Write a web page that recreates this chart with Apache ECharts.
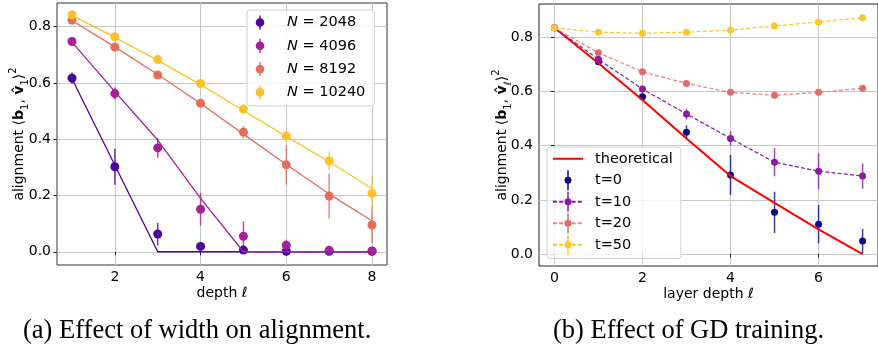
<!DOCTYPE html>
<html><head><meta charset="utf-8">
<script src="https://cdn.jsdelivr.net/npm/echarts@6/dist/echarts.min.js"></script>
<style>html,body{margin:0;padding:0;background:#fff}#c{width:878px;height:350px}</style>
</head><body><div id="c"></div>
<script>
// ---------- Panel (a): effect of width ----------
const depthA = [1, 2, 3, 4, 5, 6, 7, 8];
const widthNames = ['N = 2048', 'N = 4096', 'N = 8192', 'N = 10240'];
const n2048 = [0.617, 0.302, 0.063, 0.019, 0.006, 0.002, 0.002, 0.002];
const n2048Err = [0.02, 0.064, 0.04, 0.008, 0.005, 0.002, 0.002, 0.002];
const n2048Fit = [0.615, 0.3075, 0, 0, 0, 0, 0, 0];
const n4096 = [0.747, 0.562, 0.369, 0.151, 0.055, 0.023, 0.005, 0.003];
const n4096Err = [0.01, 0.022, 0.035, 0.058, 0.053, 0.02, 0.006, 0.004];
const n4096Fit = [0.745, 0.569, 0.397, 0.19, 0, 0, 0, 0];
const n8192 = [0.823, 0.727, 0.628, 0.528, 0.425, 0.309, 0.198, 0.095];
const n8192Err = [0.008, 0.01, 0.01, 0.012, 0.022, 0.07, 0.08, 0.065];
const n8192Fit = [0.822, 0.728, 0.63, 0.527, 0.418, 0.31, 0.205, 0.11];
const n10240 = [0.842, 0.764, 0.683, 0.598, 0.507, 0.411, 0.323, 0.207];
const n10240Err = [0.006, 0.008, 0.008, 0.01, 0.012, 0.02, 0.033, 0.065];
const n10240Fit = [0.84, 0.762, 0.68, 0.594, 0.502, 0.41, 0.32, 0.225];
const ticksXA = [2, 4, 6, 8];

// ---------- Panel (b): effect of GD training ----------
const depthB = [0, 1, 2, 3, 4, 5, 6, 7];
const theory = [0.835, 0.704, 0.569, 0.427, 0.288, 0.189, 0.091, 0.0];
const t0 = [0.835, 0.710, 0.581, 0.450, 0.292, 0.154, 0.110, 0.048];
const t0Err = [0.004, 0.01, 0.012, 0.025, 0.074, 0.076, 0.071, 0.045];
const t10 = [0.835, 0.719, 0.609, 0.517, 0.427, 0.339, 0.306, 0.288];
const t10Err = [0.004, 0.01, 0.012, 0.02, 0.026, 0.052, 0.066, 0.047];
const t20 = [0.835, 0.743, 0.673, 0.630, 0.597, 0.586, 0.597, 0.612];
const t20Err = [0.003, 0.006, 0.006, 0.006, 0.007, 0.008, 0.008, 0.008];
const t50 = [0.835, 0.819, 0.815, 0.819, 0.827, 0.842, 0.857, 0.872];
const t50Err = [0.003, 0.004, 0.004, 0.004, 0.004, 0.005, 0.005, 0.005];
const ticksXB = [0, 2, 4, 6];
const ticksY = [0, 0.2, 0.4, 0.6, 0.8];

const colorsA = ['#4c02a1', '#a62098', '#e66c5c', '#fdc229'];
const cT0 = '#0c0c8c', cT10 = '#8b19a3', cT20 = '#e56a6b', cT50 = '#fcc62c', cTh = '#ff0000';

const FONT = 'DejaVu Sans';
const NONE = 'rgba(0,0,0,0)';

// icon: circle with vertical bar in a 20x20 box
function dotBar(r, half, w) {
  const c = 10;
  return 'path://M0,0L0.001,0M20,20L19.999,20' +
    'M' + (c - w / 2) + ',' + (c - half) + 'H' + (c + w / 2) + 'V' + (c - r + 0.3) + 'H' + (c - w / 2) + 'Z' +
    'M' + (c - w / 2) + ',' + (c + r - 0.3) + 'H' + (c + w / 2) + 'V' + (c + half) + 'H' + (c - w / 2) + 'Z' +
    'M' + (c + r) + ',' + c + 'A' + r + ',' + r + ' 0 1,1 ' + (c - r) + ',' + c +
    'A' + r + ',' + r + ' 0 1,1 ' + (c + r) + ',' + c + 'Z';
}
const iconA = dotBar(6.2, 10, 2.1);
const iconLineSym = dotBar(3.5, 10, 1.5);

function errSeries(name, xs, ys, es, color, xi, lw) {
  return {
    type: 'custom', name: name, xAxisIndex: xi, yAxisIndex: xi,
    data: xs.map((x, i) => [x, ys[i], es[i]]),
    encode: { x: 0, y: 1 },
    renderItem: function (params, api) {
      const x = api.value(0), y = api.value(1), e = api.value(2);
      const p1 = api.coord([x, y - e]), p2 = api.coord([x, y + e]);
      return { type: 'line', shape: { x1: p1[0], y1: p1[1], x2: p2[0], y2: p2[1] },
        style: { stroke: color, lineWidth: lw, opacity: 0.8 } };
    },
    silent: true
  };
}

function xAxisDef(gi, min, max, ticks, nameRich) {
  return {
    type: 'value', gridIndex: gi, min: min, max: max,
    name: nameRich, nameLocation: 'middle', nameGap: 21, nameMoveOverlap: false,
    nameTextStyle: { fontFamily: FONT, fontSize: 14, color: '#000',
      rich: { n: { fontFamily: FONT, fontSize: 14, color: '#000' },
              l: { fontFamily: FONT, fontSize: 14, fontStyle: 'italic', color: '#000' } } },
    axisLine: { show: false },
    axisTick: { show: true, length: 3.5, customValues: ticks, lineStyle: { color: '#222', width: 1 } },
    axisLabel: { customValues: ticks, margin: 5, fontFamily: FONT, fontSize: 14, color: '#000',
      formatter: v => String(Math.round(v)) },
    splitLine: { show: true, lineStyle: { color: '#c8c8c8', width: 1 } }
  };
}
function yAxisDef(gi, min, max, nameRich, gap) {
  return {
    type: 'value', gridIndex: gi, min: min, max: max,
    name: nameRich, nameLocation: 'middle', nameRotate: 90, nameGap: gap, nameMoveOverlap: false,
    nameTextStyle: { fontFamily: FONT, fontSize: 14, color: '#000',
      rich: {
        n: { fontFamily: FONT, fontSize: 14, color: '#000', lineHeight: 22 },
        b: { fontFamily: FONT, fontSize: 14, fontWeight: 'bold', color: '#000', lineHeight: 22 },
        s: { fontFamily: FONT, fontSize: 10, color: '#000', verticalAlign: 'bottom', lineHeight: 12 },
        sl: { fontFamily: FONT, fontSize: 10, fontStyle: 'italic', color: '#000', verticalAlign: 'bottom', lineHeight: 12 },
        p: { fontFamily: FONT, fontSize: 10, color: '#000', verticalAlign: 'top', lineHeight: 8 }
      } },
    axisLine: { show: false },
    axisTick: { show: true, length: 3.5, customValues: ticksY, lineStyle: { color: '#222', width: 1 } },
    axisLabel: { customValues: ticksY, margin: 6, fontFamily: FONT, fontSize: 14, color: '#000',
      formatter: v => v.toFixed(1) },
    splitLine: { show: true, lineStyle: { color: '#c8c8c8', width: 1 } }
  };
}

const seriesA = [];
const fitsA = [n2048Fit, n4096Fit, n8192Fit, n10240Fit];
const valsA = [n2048, n4096, n8192, n10240];
const errsA = [n2048Err, n4096Err, n8192Err, n10240Err];
for (let k = 0; k < 4; k++) {
  seriesA.push({
    type: 'line', name: 'fit' + k, xAxisIndex: 0, yAxisIndex: 0, symbol: 'none',
    data: depthA.map((x, i) => [x, fitsA[k][i]]),
    lineStyle: { color: colorsA[k], width: 1.3 }, itemStyle: { color: colorsA[k] }, silent: true
  });
}
for (let k = 0; k < 4; k++) {
  seriesA.push(errSeries('err' + k, depthA, valsA[k], errsA[k], colorsA[k], 0, 1.5));
}
for (let k = 0; k < 4; k++) {
  seriesA.push({
    type: 'scatter', name: widthNames[k], xAxisIndex: 0, yAxisIndex: 0, symbol: 'circle', symbolSize: 9,
    data: depthA.map((x, i) => [x, valsA[k][i]]),
    itemStyle: { color: colorsA[k], opacity: 1 }
  });
}

function legendOnly(name, symbol, symColor, lineColor, lw, type, op) {
  return { type: 'line', name: name, xAxisIndex: 1, yAxisIndex: 1, data: [], symbol: symbol,
    itemStyle: { color: symColor }, lineStyle: { color: lineColor, width: lw, type: type, opacity: op } };
}

const seriesB = [
  // legend-only series (icons: line + marker + error bar)
  legendOnly('theoretical', 'circle', NONE, cTh, 2, 'solid', 1),
  legendOnly('t=0', iconLineSym, cT0, NONE, 1, 'solid', 1),
  legendOnly('t=10', iconLineSym, cT10, cT10, 1.3, [4, 2.2], 1),
  legendOnly('t=20', iconLineSym, cT20, cT20, 1.3, [4, 2.2], 0.8),
  legendOnly('t=50', iconLineSym, cT50, cT50, 1.3, [4, 2.2], 1),
  { type: 'line', name: 'theo', xAxisIndex: 1, yAxisIndex: 1, symbol: 'none',
    data: depthB.map((x, i) => [x, theory[i]]),
    itemStyle: { color: cTh }, lineStyle: { color: cTh, width: 2 } },
  errSeries('e0', depthB, t0, t0Err, cT0, 1, 1.5),
  { type: 'scatter', name: 's0', xAxisIndex: 1, yAxisIndex: 1, symbol: 'circle', symbolSize: 7,
    data: depthB.map((x, i) => [x, t0[i]]), itemStyle: { color: cT0, opacity: 1 } },
  errSeries('e10', depthB, t10, t10Err, cT10, 1, 1.5),
  { type: 'line', name: 'l10', xAxisIndex: 1, yAxisIndex: 1, symbol: 'circle', symbolSize: 7, showAllSymbol: true,
    data: depthB.map((x, i) => [x, t10[i]]), itemStyle: { color: cT10 },
    lineStyle: { color: cT10, width: 1.2, type: [4, 2.2] } },
  errSeries('e20', depthB, t20, t20Err, cT20, 1, 1.5),
  { type: 'line', name: 'l20', xAxisIndex: 1, yAxisIndex: 1, symbol: 'circle', symbolSize: 7, showAllSymbol: true,
    data: depthB.map((x, i) => [x, t20[i]]), itemStyle: { color: cT20 },
    lineStyle: { color: cT20, width: 1.2, type: [4, 2.2], opacity: 0.85 } },
  errSeries('e50', depthB, t50, t50Err, cT50, 1, 1.5),
  { type: 'line', name: 'l50', xAxisIndex: 1, yAxisIndex: 1, symbol: 'circle', symbolSize: 7, showAllSymbol: true,
    data: depthB.map((x, i) => [x, t50[i]]), itemStyle: { color: cT50 },
    lineStyle: { color: cT50, width: 1.2, type: [4, 2.2] } }
];

const captionStyle = { fontFamily: 'Liberation Serif', fontSize: 26.5, fontWeight: 'normal', color: '#000' };

const chart = echarts.init(document.getElementById('c'), null, { renderer: 'canvas' });
chart.setOption({
  animation: false,
  backgroundColor: '#fff',
  title: [
    { text: '(a) Effect of width on alignment.', left: 23, top: 318, padding: 0, textStyle: captionStyle },
    { text: '(b) Effect of GD training.', left: 553, top: 318, padding: 0, textStyle: captionStyle }
  ],
  grid: [
    { left: 57, top: 3, width: 330, height: 262, show: true, borderColor: '#333', borderWidth: 1, backgroundColor: 'transparent' },
    { left: 539, top: 4, width: 347, height: 262, show: true, borderColor: '#222', borderWidth: 1, backgroundColor: 'transparent' }
  ],
  xAxis: [
    xAxisDef(0, 0.65, 8.35, ticksXA, '{n|depth }{l|ℓ}'),
    xAxisDef(1, -0.35, 7.35, ticksXB, '{n|layer depth }{l|ℓ}')
  ],
  yAxis: [
    yAxisDef(0, -0.047, 0.884, '{n|alignment ⟨}{b|b}{s|1}{n|, }{b|v̂}{s|1}{n|⟩}{p|2}', 27),
    yAxisDef(1, -0.044, 0.923, '{n|alignment ⟨}{b|b}{s|1}{n|, }{b|v̂}{sl|ℓ}{n|⟩}{p|2}', 25.5)
  ],
  legend: [
    { data: widthNames.map(n => ({ name: n, icon: iconA })),
      orient: 'vertical', left: 247, top: 10, itemWidth: 30, itemHeight: 14, itemGap: 8.3,
      padding: [5, 9, 6, 6], selectedMode: false,
      backgroundColor: 'rgba(255,255,255,0.8)', borderColor: '#d0d0d0', borderWidth: 1, borderRadius: 3,
      formatter: n => n.replace('N', '{i|N}'),
      textStyle: { fontFamily: FONT, fontSize: 14.5, color: '#000', padding: [0, 0, 0, 7],
        rich: { i: { fontFamily: FONT, fontSize: 14.5, fontStyle: 'italic', color: '#000' } } } },
    { data: ['theoretical', 't=0', 't=10', 't=20', 't=50'],
      orient: 'vertical', left: 547, top: 147, itemWidth: 30, itemHeight: 25, itemGap: 0,
      padding: [1, 8, 3, 5], selectedMode: false,
      backgroundColor: 'rgba(255,255,255,0.8)', borderColor: '#d0d0d0', borderWidth: 1, borderRadius: 3,
      textStyle: { fontFamily: FONT, fontSize: 14.5, lineHeight: 21.5, color: '#000', padding: [0, 0, 0, 7] } }
  ],
  series: seriesA.concat(seriesB)
});
</script>
</body></html>
